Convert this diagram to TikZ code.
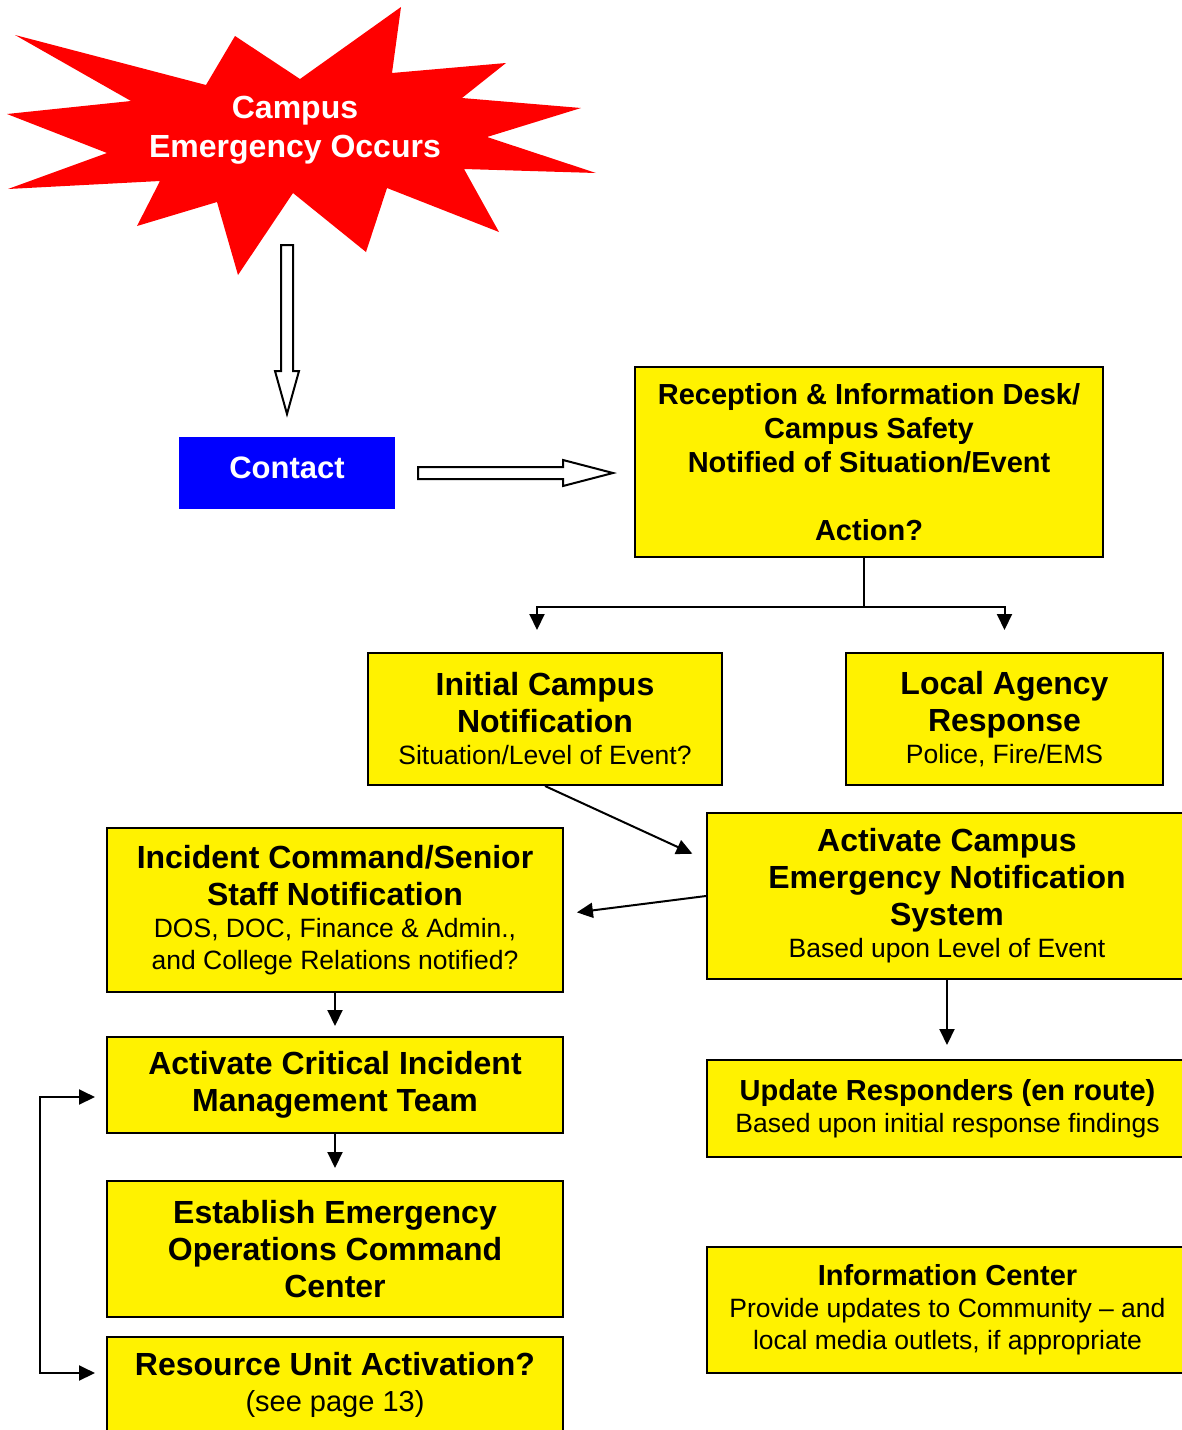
\documentclass[tikz,border=0pt]{standalone}
\usepackage{fontspec}
\setmainfont{Liberation Sans}
\usetikzlibrary{arrows.meta}
\newcommand\hb{\fontsize{32}{37}\selectfont\bfseries}
\newcommand\hbs{\fontsize{29}{34}\selectfont\bfseries}
\newcommand\rg{\fontsize{26.5}{32}\selectfont\mdseries}
\newcommand\rgl{\fontsize{29}{36}\selectfont\mdseries}
\newcommand\bx[1]{\centering\spaceskip=0pt\xspaceskip=0pt\parindent=0pt #1\par}
\begin{document}
\begin{tikzpicture}[x=1pt,y=-1pt,
  box/.style={draw=black, line width=2pt, fill=yellow, inner sep=0pt},
  arr/.style={line width=2pt, -{Triangle[length=16pt,width=15pt]}},
  link/.style={line width=2pt},
  hollow/.style={draw=black, line width=2pt, fill=white, line join=miter}]
\useasboundingbox (0,0) rectangle (1182,1430);

% starburst
\fill[red] (15,35) -- (131,101) -- (7,114) -- (107,153) -- (8,189) -- (160,181)
  -- (137,226) -- (217,202) -- (238,275) -- (293,193) -- (366,252) -- (387,188)
  -- (499,232) -- (464,169) -- (596,173) -- (487,137) -- (581,108) -- (462,98)
  -- (506,63) -- (392,73) -- (401,7) -- (300,79) -- (235,36) -- (206,85) -- cycle;
\node[text=white, font=\hb, align=center, inner sep=0pt] (burst) at (295,130) {Campus\\[2pt]Emergency Occurs};

% contact
\node[fill=blue, minimum width=216pt, minimum height=72pt, inner sep=0pt, text=white,
  font=\fontsize{31}{36}\selectfont\bfseries, text height=22.5pt, text depth=12pt] (contact) at (287,473) {Contact};

% hollow arrows
\draw[hollow] (281,245) -- (293,245) -- (293,371) -- (299,371) -- (287,414) -- (275,371) -- (281,371) -- cycle;
\draw[hollow] (418,467) -- (563,467) -- (563,460) -- (613,473) -- (563,486) -- (563,479) -- (418,479) -- cycle;

% boxes
\node[box, minimum width=468pt, minimum height=190pt, text width=450pt] (rec) at (869,462)
  {\bx{\hbs Reception \& Information Desk/\par Campus Safety\par Notified of Situation/Event\par\vspace{34pt}Action?}};
\node[box, minimum width=354pt, minimum height=132pt, text width=340pt] (init) at (545,719)
  {\bx{\hb Initial Campus\par Notification\par\rg Situation/Level of Event?}};
\node[box, minimum width=317pt, minimum height=132pt, text width=300pt] (loc) at (1004.5,719)
  {\bx{\hb Local Agency\par Response\par\rg Police, Fire/EMS}};
\node[box, minimum width=480pt, minimum height=166pt, text width=460pt] (actc) at (947,896)
  {\bx{\hb Activate Campus\par Emergency Notification\par System\par\rg Based upon Level of Event}};
\node[box, minimum width=456pt, minimum height=164pt, text width=440pt] (inc) at (335,910)
  {\bx{\hb Incident Command/Senior\par Staff Notification\par\rg DOS, DOC, Finance \& Admin.,\par and College Relations notified?}};
\node[box, minimum width=456pt, minimum height=96pt, text width=440pt] (crit) at (335,1085)
  {\bx{\hb Activate Critical Incident\par Management Team}};
\node[box, minimum width=456pt, minimum height=136pt, text width=440pt] (est) at (335,1249)
  {\bx{\hb Establish Emergency\par Operations Command\par Center}};
\node[box, minimum width=456pt, minimum height=95pt, text width=440pt] (res) at (335,1384.5)
  {\bx{\hb Resource Unit Activation?\par\rgl (see page 13)}};
\node[box, minimum width=481pt, minimum height=97pt, text width=470pt] (upd) at (947.5,1108.5)
  {\bx{\hbs Update Responders (en route)\par\rg Based upon initial response findings}};
\node[box, minimum width=481pt, minimum height=126pt, text width=470pt] (info) at (947.5,1310)
  {\bx{\hbs Information Center\par\rg Provide updates to Community – and\par local media outlets, if appropriate}};

% connectors
\coordinate (j) at (864,607);
\draw[link] ([xshift=-5pt]rec.south) -- (j);
\draw[arr, shorten >=22pt] (j) -| ([xshift=-8pt]init.north);
\draw[arr, shorten >=22pt] (j) -| (loc.north);
\draw[arr, shorten >=15pt] (init.south) -- ([yshift=36pt]actc.west);
\draw[arr, shorten >=13pt] (actc.west) -- ([yshift=-4pt]inc.east);
\draw[arr, shorten >=10pt] (inc.south) -- (crit.north);
\draw[arr, shorten >=12pt] (crit.south) -- (est.north);
\draw[arr, shorten >=14pt] (actc.south) -- (actc.south |- upd.north);
\coordinate (lp) at (40,1235);
\draw[link, {Triangle[length=16pt,width=15pt]}-{Triangle[length=16pt,width=15pt]}, shorten <=11pt, shorten >=11pt]
  ([yshift=-12pt]crit.west) -| (lp) |- ([yshift=11.5pt]res.west);
\end{tikzpicture}
\end{document}
